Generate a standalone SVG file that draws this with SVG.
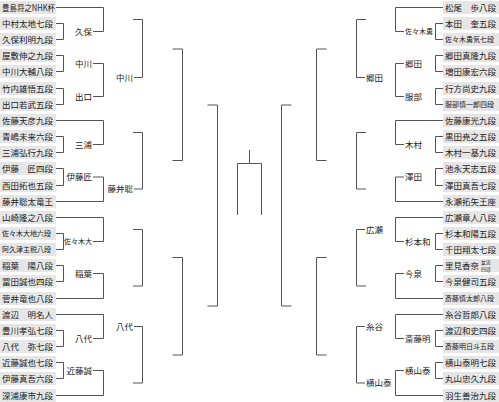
<svg xmlns="http://www.w3.org/2000/svg" width="499" height="402" viewBox="0 0 499 402">
<style>
.b{fill:#e6e6e6}
.t{font-family:"Noto Sans CJK JP",sans-serif;font-size:8.5px;fill:#222}
.s{font-size:7px}
.x{font-size:4.8px}
.e{text-anchor:end}
.c path{stroke:#555;stroke-width:1;fill:none}
</style>
<rect width="499" height="402" fill="#fff"/>
<g class="c" id="connectors">
<path d="M56,7.5H103.5V31.5H93"/>
<path d="M56,23.5H63.5V39.5H56"/>
<path d="M56,55.5H63.5V71.5H56"/>
<path d="M93,63.5H103.5V96.5H93"/>
<path d="M56,88.5H63.5V104.5H56"/>
<path d="M134,77.5H142.5V19.5H133"/>
<path d="M172.5,49H182.5V160.5H172.5"/>
<path d="M56,120.5H103.5V144.5H93"/>
<path d="M56,136.5H63.5V152.5H56"/>
<path d="M56,168.5H63.5V185.5H56"/>
<path d="M93,177H103.5V201.5H56"/>
<path d="M134,189H142.5V132.5H133"/>
<path d="M56,217.5H103.5V241.5H93"/>
<path d="M56,233.5H63.5V249.5H56"/>
<path d="M56,265.5H63.5V281.5H56"/>
<path d="M93,273.5H103.5V298.5H56"/>
<path d="M133,229.5H142.5V286H133"/>
<path d="M172.5,257.5H182.5V355H172.5"/>
<path d="M56,314.5H103.5V338.5H93"/>
<path d="M56,330.5H63.5V346.5H56"/>
<path d="M134,326.5H142.5V383H133"/>
<path d="M56,362.5H63.5V378.5H56"/>
<path d="M93,370.5H103.5V395.5H56"/>
<path d="M207.5,105H217.5V306H207.5"/>
<path d="M443,7.5H395.5V31.5H404"/>
<path d="M443,23.5H435.5V39.5H443"/>
<path d="M443,55.5H435.5V71.5H443"/>
<path d="M404,63.5H395.5V96.5H404"/>
<path d="M443,88.5H435.5V104.5H443"/>
<path d="M365,77.5H356.5V19.5H366"/>
<path d="M326.5,49H316.5V160.5H326.5"/>
<path d="M443,120.5H395.5V144.5H404"/>
<path d="M443,136.5H435.5V152.5H443"/>
<path d="M443,168.5H435.5V185.5H443"/>
<path d="M404,177H395.5V201.5H443"/>
<path d="M366,132.5H356.5V189H366"/>
<path d="M443,217.5H395.5V241.5H404"/>
<path d="M443,233.5H435.5V249.5H443"/>
<path d="M365,229.5H356.5V286H366"/>
<path d="M443,265.5H435.5V281.5H443"/>
<path d="M404,273.5H395.5V298.5H443"/>
<path d="M326.5,257.5H316.5V355H326.5"/>
<path d="M443,314.5H395.5V338.5H404"/>
<path d="M443,330.5H435.5V346.5H443"/>
<path d="M365,326.5H356.5V383H365"/>
<path d="M443,362.5H435.5V378.5H443"/>
<path d="M404,370.5H395.5V395.5H443"/>
<path d="M291.5,105H281.5V306H291.5"/>
<path d="M249.5,150V163.5M237.5,215V163.5H261.5V215"/>
</g>
<g class="t">
<g id="l00"><rect class="b" x="0" y="1" width="56" height="13"/><text x="2" y="10.5" textLength="53" lengthAdjust="spacingAndGlyphs">豊島将之NHK杯</text></g>
<g id="l01"><rect class="b" x="0" y="17" width="56" height="13"/><text x="2" y="26.5">中村太地七段</text></g>
<g id="l02"><rect class="b" x="0" y="33" width="56" height="13"/><text x="2" y="42.5">久保利明九段</text></g>
<g id="l03"><rect class="b" x="0" y="49" width="56" height="13"/><text x="2" y="58.5">屋敷伸之九段</text></g>
<g id="l04"><rect class="b" x="0" y="65" width="56" height="13"/><text x="2" y="74.5">中川大輔八段</text></g>
<g id="l05"><rect class="b" x="0" y="82" width="56" height="13"/><text x="2" y="91.5">竹内雄悟五段</text></g>
<g id="l06"><rect class="b" x="0" y="98" width="56" height="13"/><text x="2" y="107.5">出口若武五段</text></g>
<g id="l07"><rect class="b" x="0" y="114" width="56" height="13"/><text x="2" y="123.5">佐藤天彦九段</text></g>
<g id="l08"><rect class="b" x="0" y="130" width="56" height="13"/><text x="2" y="139.5">青嶋未来六段</text></g>
<g id="l09"><rect class="b" x="0" y="146" width="56" height="13"/><text x="2" y="155.5">三浦弘行九段</text></g>
<g id="l10"><rect class="b" x="0" y="162" width="56" height="13"/><text x="2" y="171.5">伊藤　匠四段</text></g>
<g id="l11"><rect class="b" x="0" y="179" width="56" height="13"/><text x="2" y="188.5">西田拓也五段</text></g>
<g id="l12"><rect class="b" x="0" y="195" width="56" height="13"/><text x="2" y="204.5">藤井聡太竜王</text></g>
<g id="l13"><rect class="b" x="0" y="211" width="56" height="13"/><text x="2" y="220.5">山崎隆之八段</text></g>
<g id="l14"><rect class="b" x="0" y="227" width="56" height="13"/><text class="s" x="2" y="236">佐々木大地六段</text></g>
<g id="l15"><rect class="b" x="0" y="243" width="56" height="13"/><text class="s" x="2" y="252">阿久津主税八段</text></g>
<g id="l16"><rect class="b" x="0" y="259" width="56" height="13"/><text x="2" y="268.5">稲葉　陽八段</text></g>
<g id="l17"><rect class="b" x="0" y="275" width="56" height="13"/><text x="2" y="284.5">冨田誠也四段</text></g>
<g id="l18"><rect class="b" x="0" y="292" width="56" height="13"/><text x="2" y="301.5">菅井竜也八段</text></g>
<g id="l19"><rect class="b" x="0" y="308" width="56" height="13"/><text x="2" y="317.5">渡辺　明名人</text></g>
<g id="l20"><rect class="b" x="0" y="324" width="56" height="13"/><text x="2" y="333.5">豊川孝弘七段</text></g>
<g id="l21"><rect class="b" x="0" y="340" width="56" height="13"/><text x="2" y="349.5">八代　弥七段</text></g>
<g id="l22"><rect class="b" x="0" y="356" width="56" height="13"/><text x="2" y="365.5">近藤誠也七段</text></g>
<g id="l23"><rect class="b" x="0" y="372" width="56" height="13"/><text x="2" y="381.5">伊藤真吾六段</text></g>
<g id="l24"><rect class="b" x="0" y="389" width="56" height="13"/><text x="2" y="398.5">深浦康市九段</text></g>

<g id="r00"><rect class="b" x="443" y="1" width="56" height="13"/><text x="445" y="10.5">松尾　歩八段</text></g>
<g id="r01"><rect class="b" x="443" y="17" width="56" height="13"/><text x="445" y="26.5">本田　奎五段</text></g>
<g id="r02"><rect class="b" x="443" y="33" width="56" height="13"/><text class="s" x="445" y="42">佐々木勇気七段</text></g>
<g id="r03"><rect class="b" x="443" y="49" width="56" height="13"/><text x="445" y="58.5">郷田真隆九段</text></g>
<g id="r04"><rect class="b" x="443" y="65" width="56" height="13"/><text x="445" y="74.5">増田康宏六段</text></g>
<g id="r05"><rect class="b" x="443" y="82" width="56" height="13"/><text x="445" y="91.5">行方尚史九段</text></g>
<g id="r06"><rect class="b" x="443" y="98" width="56" height="13"/><text class="s" x="445" y="107">服部慎一郎四段</text></g>
<g id="r07"><rect class="b" x="443" y="114" width="56" height="13"/><text x="445" y="123.5">佐藤康光九段</text></g>
<g id="r08"><rect class="b" x="443" y="130" width="56" height="13"/><text x="445" y="139.5">黒田尭之五段</text></g>
<g id="r09"><rect class="b" x="443" y="146" width="56" height="13"/><text x="445" y="155.5">木村一基九段</text></g>
<g id="r10"><rect class="b" x="443" y="162" width="56" height="13"/><text x="445" y="171.5">池永天志五段</text></g>
<g id="r11"><rect class="b" x="443" y="179" width="56" height="13"/><text x="445" y="188.5">澤田真吾七段</text></g>
<g id="r12"><rect class="b" x="443" y="195" width="56" height="13"/><text x="445" y="204.5">永瀬拓矢王座</text></g>
<g id="r13"><rect class="b" x="443" y="211" width="56" height="13"/><text x="445" y="220.5">広瀬章人八段</text></g>
<g id="r14"><rect class="b" x="443" y="227" width="56" height="13"/><text x="445" y="236.5">杉本和陽五段</text></g>
<g id="r15"><rect class="b" x="443" y="243" width="56" height="13"/><text x="445" y="252.5">千田翔太七段</text></g>
<g id="r16"><rect class="b" x="443" y="259" width="56" height="13"/><text x="445" y="268.5">里見香奈</text><text class="x" x="481" y="264.3">女流</text><text class="x" x="481" y="271.3">四冠</text></g>
<g id="r17"><rect class="b" x="443" y="275" width="56" height="13"/><text x="445" y="284.5">今泉健司五段</text></g>
<g id="r18"><rect class="b" x="443" y="292" width="56" height="13"/><text class="s" x="445" y="301">斎藤慎太郎八段</text></g>
<g id="r19"><rect class="b" x="443" y="308" width="56" height="13"/><text x="445" y="317.5">糸谷哲郎八段</text></g>
<g id="r20"><rect class="b" x="443" y="324" width="56" height="13"/><text x="445" y="333.5">渡辺和史四段</text></g>
<g id="r21"><rect class="b" x="443" y="340" width="56" height="13"/><text class="s" x="445" y="349">斎藤明日斗五段</text></g>
<g id="r22"><rect class="b" x="443" y="356" width="56" height="13"/><text x="445" y="365.5">横山泰明七段</text></g>
<g id="r23"><rect class="b" x="443" y="372" width="56" height="13"/><text x="445" y="381.5">丸山忠久九段</text></g>
<g id="r24"><rect class="b" x="443" y="389" width="56" height="13"/><text x="445" y="398.5">羽生善治九段</text></g>

<g id="w-kubo"><text class="e" x="92" y="34.5">久保</text></g>
<g id="w-nakagawa1"><text class="e" x="92" y="66.5">中川</text></g>
<g id="w-deguchi"><text class="e" x="92" y="99.5">出口</text></g>
<g id="w-nakagawa2"><text class="e" x="133" y="80.5">中川</text></g>
<g id="w-miura"><text class="e" x="92" y="147.5">三浦</text></g>
<g id="w-itotakumi"><text class="e" x="92" y="180">伊藤匠</text></g>
<g id="w-fujii"><text class="e" x="133" y="192">藤井聡</text></g>
<g id="w-sasakidai"><text class="e s" x="92" y="244">佐々木大</text></g>
<g id="w-inaba"><text class="e" x="92" y="276.5">稲葉</text></g>
<g id="w-yashiro1"><text class="e" x="92" y="341.5">八代</text></g>
<g id="w-yashiro2"><text class="e" x="133" y="329.5">八代</text></g>
<g id="w-kondo"><text class="e" x="92" y="373.5">近藤誠</text></g>

<g id="w-sasakiyu"><text class="s" x="405" y="34">佐々木勇</text></g>
<g id="w-goda1"><text x="405" y="66.5">郷田</text></g>
<g id="w-hattori"><text x="405" y="99.5">服部</text></g>
<g id="w-goda2"><text x="366" y="80.5">郷田</text></g>
<g id="w-kimura"><text x="405" y="147.5">木村</text></g>
<g id="w-sawada"><text x="405" y="180">澤田</text></g>
<g id="w-sugimoto"><text x="405" y="244.5">杉本和</text></g>
<g id="w-hirose"><text x="366" y="232.5">広瀬</text></g>
<g id="w-imaizumi"><text x="405" y="276.5">今泉</text></g>
<g id="w-saitoa"><text x="405" y="341.5">斎藤明</text></g>
<g id="w-itodani"><text x="366" y="329.5">糸谷</text></g>
<g id="w-yokoyama1"><text x="405" y="373.5">横山泰</text></g>
<g id="w-yokoyama2"><text x="366" y="386">横山泰</text></g>
</g>
</svg>
